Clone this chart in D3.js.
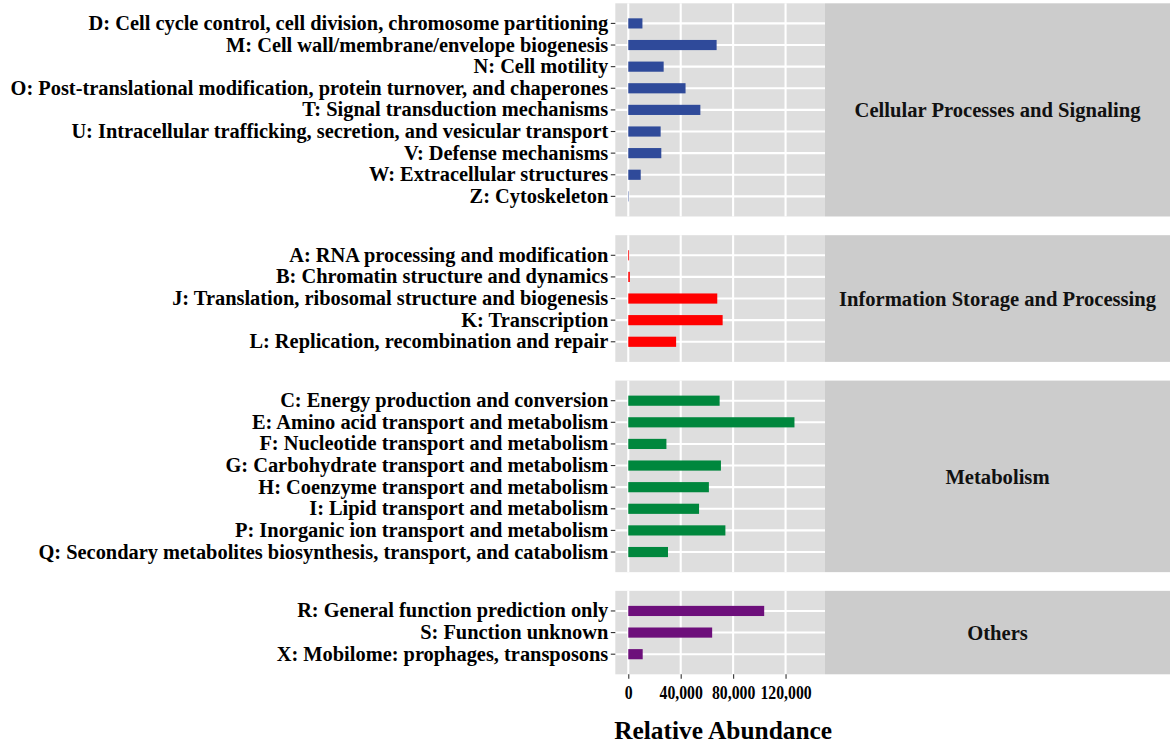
<!DOCTYPE html>
<html>
<head>
<meta charset="utf-8">
<script src="https://cdn.jsdelivr.net/npm/d3@7"></script>
<style>
  html, body { margin: 0; padding: 0; background: #fff; }
  svg text { font-family: "Liberation Serif", "Times New Roman", serif; font-weight: bold; }
</style>
</head>
<body>
<svg id="chart" width="1170" height="743"></svg>
<script>
// COG functional categories, grouped by class
const groupNames = [
  "Cellular Processes and Signaling",
  "Information Storage and Processing",
  "Metabolism",
  "Others"
];
const groupColors = ["#2F4A9A", "#FF0000", "#00873D", "#6D0F7B"];

const cellularCategories = [
  "D: Cell cycle control, cell division, chromosome partitioning",
  "M: Cell wall/membrane/envelope biogenesis",
  "N: Cell motility",
  "O: Post-translational modification, protein turnover, and chaperones",
  "T: Signal transduction mechanisms",
  "U: Intracellular trafficking, secretion, and vesicular transport",
  "V: Defense mechanisms",
  "W: Extracellular structures",
  "Z: Cytoskeleton"
];
const cellularValues = [10800, 67400, 27000, 43700, 55000, 24700, 25200, 9500, 300];

const informationCategories = [
  "A: RNA processing and modification",
  "B: Chromatin structure and dynamics",
  "J: Translation, ribosomal structure and biogenesis",
  "K: Transcription",
  "L: Replication, recombination and repair"
];
const informationValues = [600, 1200, 67900, 72000, 36500];

const metabolismCategories = [
  "C: Energy production and conversion",
  "E: Amino acid transport and metabolism",
  "F: Nucleotide transport and metabolism",
  "G: Carbohydrate transport and metabolism",
  "H: Coenzyme transport and metabolism",
  "I: Lipid transport and metabolism",
  "P: Inorganic ion transport and metabolism",
  "Q: Secondary metabolites biosynthesis, transport, and catabolism"
];
const metabolismValues = [69700, 126800, 29100, 70700, 61500, 54000, 74100, 30300];

const otherCategories = [
  "R: General function prediction only",
  "S: Function unknown",
  "X: Mobilome: prophages, transposons"
];
const otherValues = [103700, 64000, 11000];

const xTicks = [0, 40000, 80000, 120000];
const xDomain = [-9900, 150100];
const xTitle = "Relative Abundance";

const facets = [
  { name: groupNames[0], color: groupColors[0], cats: cellularCategories, vals: cellularValues },
  { name: groupNames[1], color: groupColors[1], cats: informationCategories, vals: informationValues },
  { name: groupNames[2], color: groupColors[2], cats: metabolismCategories, vals: metabolismValues },
  { name: groupNames[3], color: groupColors[3], cats: otherCategories, vals: otherValues }
];

// Layout
const panelLeft = 615.3, panelRight = 825, stripRight = 1170;
const plotTop = 3.3, plotBottom = 674.3, panelGap = 18.7;
const outerPad = 0.93;          // row padding at each end of a panel, in row units
const barFrac = 0.47;           // bar thickness as a fraction of row step
const totalUnits = d3.sum(facets, f => f.cats.length - 1 + 2 * outerPad);
const rowStep = (plotBottom - plotTop - panelGap * (facets.length - 1)) / totalUnits;

const svg = d3.select("#chart");
const x = d3.scaleLinear().domain(xDomain).range([panelLeft, panelRight]);

let y0 = plotTop;
facets.forEach((f, i) => {
  const h = (f.cats.length - 1 + 2 * outerPad) * rowStep;
  const y = d3.scaleBand()
    .domain(f.cats)
    .range([y0, y0 + h])
    .paddingInner(1 - barFrac)
    .paddingOuter(outerPad - barFrac / 2);

  const g = svg.append("g");

  // panel background
  g.append("rect")
    .attr("x", panelLeft).attr("y", y0)
    .attr("width", panelRight - panelLeft).attr("height", h)
    .attr("fill", "#DEDEDE");

  // vertical grid
  g.selectAll("line.vgrid").data(xTicks).join("line")
    .attr("class", "vgrid")
    .attr("x1", d => x(d)).attr("x2", d => x(d))
    .attr("y1", y0).attr("y2", y0 + h)
    .attr("stroke", "#fff").attr("stroke-width", 2.1);

  // horizontal grid
  g.selectAll("line.hgrid").data(f.cats).join("line")
    .attr("class", "hgrid")
    .attr("x1", panelLeft).attr("x2", panelRight)
    .attr("y1", d => y(d) + y.bandwidth() / 2)
    .attr("y2", d => y(d) + y.bandwidth() / 2)
    .attr("stroke", "#fff").attr("stroke-width", 2.1);

  // bars
  g.selectAll("rect.bar").data(f.cats.map((c, k) => ({ c, v: f.vals[k] }))).join("rect")
    .attr("class", "bar")
    .attr("x", x(0))
    .attr("y", d => y(d.c))
    .attr("width", d => x(d.v) - x(0))
    .attr("height", y.bandwidth())
    .attr("fill", f.color);

  // strip
  g.append("rect")
    .attr("x", panelRight).attr("y", y0)
    .attr("width", stripRight - panelRight).attr("height", h)
    .attr("fill", "#CCCCCC");
  g.append("text")
    .attr("x", (panelRight + stripRight) / 2)
    .attr("y", y0 + h / 2)
    .attr("dy", "0.35em")
    .attr("text-anchor", "middle")
    .attr("font-size", 20.6)
    .attr("fill", "#111")
    .text(f.name);

  // y axis
  const yAxis = d3.axisLeft(y).tickSize(4.5).tickPadding(2.5);
  const ay = svg.append("g")
    .attr("transform", `translate(${panelLeft},0)`)
    .call(yAxis);
  ay.select(".domain").remove();
  ay.selectAll(".tick line").attr("stroke", "#333").attr("stroke-width", 1.1);
  ay.selectAll(".tick text")
    .attr("font-size", 20.4)
    .attr("font-family", null)
    .attr("fill", "#000");

  // x axis on the last panel
  if (i === facets.length - 1) {
    const xAxis = d3.axisBottom(x).tickValues(xTicks).tickFormat(d3.format(",")).tickSize(4.5).tickPadding(6.5);
    const ax = svg.append("g")
      .attr("transform", `translate(0,${y0 + h})`)
      .call(xAxis);
    ax.select(".domain").remove();
    ax.selectAll(".tick line").attr("stroke", "#333").attr("stroke-width", 1.1);
    ax.selectAll(".tick text")
      .attr("font-size", 19)
      .attr("font-family", null)
      .attr("transform", "scale(0.83,1)")
      .attr("fill", "#000");
  }

  y0 += h + panelGap;
});

svg.append("text")
  .attr("x", (panelLeft + panelRight) / 2 + 3)
  .attr("y", 739)
  .attr("text-anchor", "middle")
  .attr("font-size", 25.4)
  .attr("fill", "#000")
  .text(xTitle);
</script>
</body>
</html>
